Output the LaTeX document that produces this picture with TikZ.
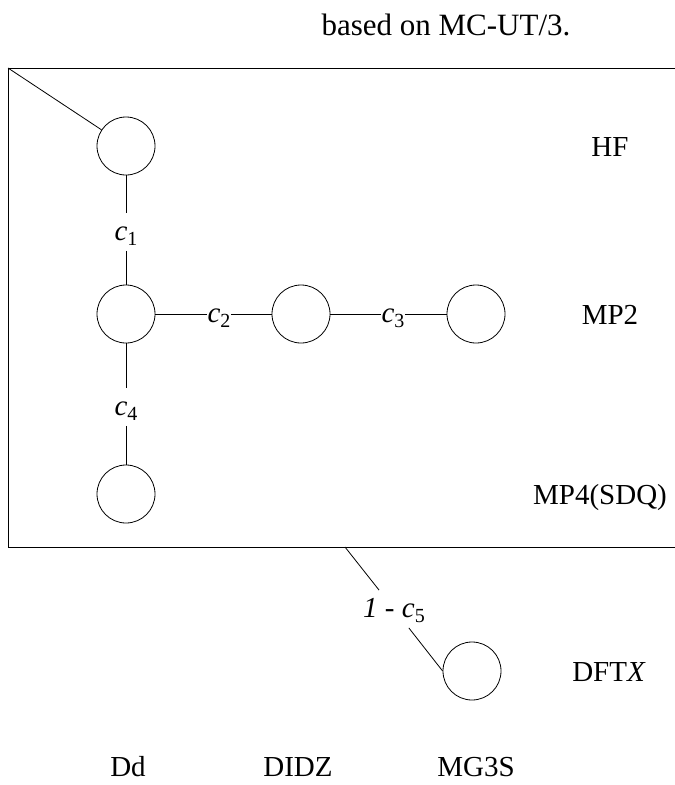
\documentclass[tikz,border=0pt]{standalone}
\usepackage{fontspec}
\setmainfont{Liberation Serif}
\newcommand{\cvar}[1]{\textit{c}\raisebox{-5pt}{\fontsize{20}{22}\selectfont #1}}
\begin{document}
\begin{tikzpicture}[x=1pt,y=-1pt,line width=0.8pt,
    level/.style={draw,circle,minimum size=58pt,inner sep=0pt},
    coef/.style={inner sep=0pt,text height=27pt,text depth=10pt,font=\fontsize{29}{34}\selectfont},
    lbl/.style={anchor=base,inner sep=0pt,font=\fontsize{29}{34}\selectfont}]
    \useasboundingbox (0,0) rectangle (675,785);
    \node[anchor=base,font=\fontsize{31}{36}\selectfont] (title) at (446,35) {based on MC-UT/3.};
    % open box round the ab initio levels
    \draw (675,68) -- (8,68) -- (8,547) -- (675,547);
    \coordinate (corner) at (8,68);
    \coordinate (exit) at (345,547);
    % levels
    \node[level] (hf) at (126,146) {};
    \node[level] (mpa) at (126,314) {};
    \node[level] (mpb) at (301,314) {};
    \node[level] (mpc) at (476,314) {};
    \node[level] (mpf) at (126,494) {};
    \node[level] (dft) at (472,671) {};
    % coefficients
    \node[coef] (cone) at (126,232) {\cvar{1}};
    \node[coef] (ctwo) at (219,314) {\cvar{2}};
    \node[coef] (cthree) at (393,314) {\cvar{3}};
    \node[coef] (cfour) at (126,407) {\cvar{4}};
    \node[coef] (cfive) at (394,609) {\textit{1} - \cvar{5}};
    \draw (corner) -- (hf);
    \draw (hf) -- (cone) -- (mpa);
    \draw (mpa) -- (ctwo) -- (mpb);
    \draw (mpb) -- (cthree) -- (mpc);
    \draw (mpa) -- (cfour) -- (mpf);
    \draw (exit) -- (cfive) -- (dft.west);
    % methods
    \node[lbl] (lhf) at (610,156) {HF};
    \node[lbl] (lmp) at (610,324) {MP2};
    \node[lbl] (lmpf) at (600,504) {MP4(SDQ)};
    \node[lbl] (ldft) at (609,681) {DFT\textit{X}};
    % basis sets
    \node[lbl] (bdd) at (128,776) {Dd};
    \node[lbl] (bdidz) at (298,776) {DIDZ};
    \node[lbl] (bmg) at (476,776) {MG3S};
\end{tikzpicture}
\end{document}
